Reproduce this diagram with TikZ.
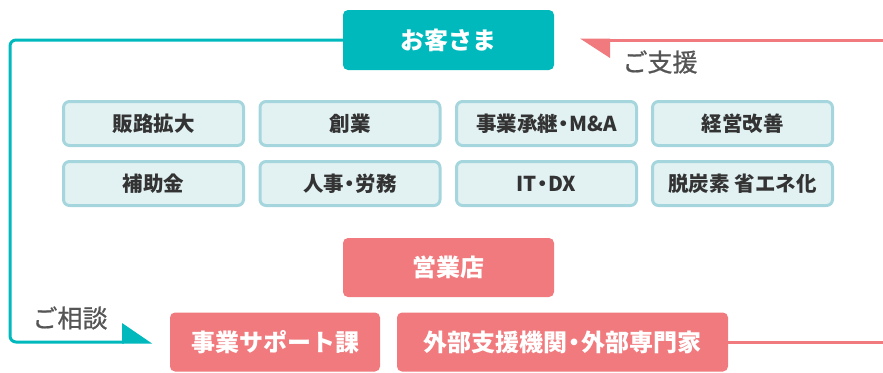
\documentclass[tikz,border=0pt]{standalone}
\usepackage{fontspec}
\setmainfont{Noto Sans CJK JP}
\newfontfamily\medfont[FakeBold=0.8]{Noto Sans CJK JP}
\newcommand{\nakaten}{\hspace{-0.22em}・\hspace{-0.22em}}
\definecolor{teal}{HTML}{00B9BD}
\definecolor{pinkc}{HTML}{F07A7D}
\definecolor{lightfill}{HTML}{E2F2F3}
\definecolor{lightborder}{HTML}{A5D6DD}
\definecolor{darktext}{HTML}{333333}
\definecolor{graytext}{HTML}{555555}
\tikzset{
  mainbox/.style={rectangle, rounded corners=5pt, inner sep=0pt, text=white, font=\fontsize{24}{26}\selectfont\bfseries},
  custbox/.style={mainbox, fill=teal, minimum width=211pt, minimum height=60pt},
  pinkbox/.style={mainbox, fill=pinkc, minimum height=59pt},
  topicbox/.style={rectangle, rounded corners=6pt, draw=lightborder, line width=3pt, fill=lightfill, inner sep=0pt,
     minimum width=180pt, minimum height=44pt, text=darktext, font=\fontsize{20.5}{22}\selectfont\bfseries},
  lbl/.style={text=graytext, font=\fontsize{25}{27}\medfont},
  tline/.style={draw=teal, line width=3pt, rounded corners=6pt},
  pline/.style={draw=pinkc, line width=3pt},
}
\begin{document}
\begin{tikzpicture}[x=1pt,y=-1pt]
\useasboundingbox (0,0) rectangle (883,372);
\clip (0,0) rectangle (883,372);
% customer
\node[custbox] (cust) at (448.5,40) {お客さま};
% topics
\node[topicbox] (t1) at (153.5,123.5) {販路拡大};
\node[topicbox] (t2) at (350,123.5) {創業};
\node[topicbox] (t3) at (546.5,123.5) {事業承継\nakaten M\&A};
\node[topicbox] (t4) at (742.5,123.5) {経営改善};
\node[topicbox] (t5) at (153.5,183.5) {補助金};
\node[topicbox] (t6) at (350,183.5) {人事\nakaten 労務};
\node[topicbox] (t7) at (546.5,183.5) {IT\nakaten DX};
\node[topicbox] (t8) at (742.5,183.5) {脱炭素 省エネ化};
% branch
\node[pinkbox, minimum width=211pt] (branch) at (448.5,267.5) {営業店};
\node[pinkbox, minimum width=210pt] (support) at (275,342) {事業サポート課};
\node[pinkbox, minimum width=331pt] (ext) at (562.5,342) {外部支援機関\nakaten 外部専門家};
% teal consult path
\coordinate (tc1) at (10,40);
\coordinate (tc2) at (10,342);
\coordinate (tend) at (124,342);
\coordinate (ttip) at (152,343.5);
\draw[tline] (cust.west |- 0,40) -- (tc1) -- (tc2) -- (tend);
\fill[teal] (122,323) -- (ttip) -- (122,343.5) -- cycle;
\node[lbl] (consult) at (70,318) {ご相談};
% pink support path
\coordinate (pc1) at (884.5,342);
\coordinate (pc2) at (884.5,40);
\coordinate (pend) at (608,40);
\coordinate (ptip) at (580,38.5);
\draw[pline] (ext.east |- 0,342) -- (pc1) -- (pc2) -- (pend);
\fill[pinkc] (ptip) -- (610,38.5) -- (610,58) -- cycle;
\node[lbl] (help) at (660,62) {ご支援};
\end{tikzpicture}
\end{document}
